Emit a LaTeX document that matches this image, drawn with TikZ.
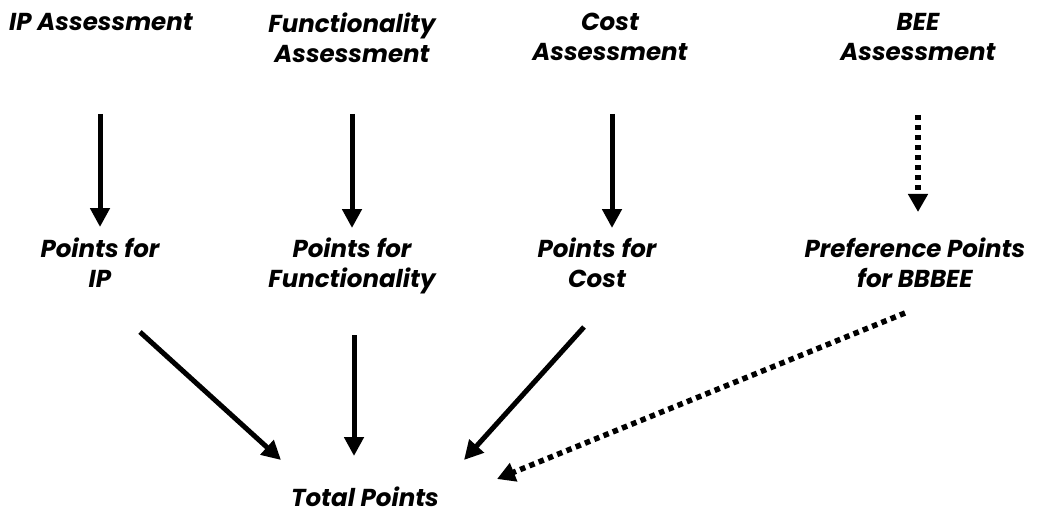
\documentclass[tikz,border=0pt]{standalone}
\usepackage{fontspec}
\setmainfont{Poppins}
\usetikzlibrary{arrows.meta,calc}
\tikzset{
  lbl/.style={font=\fontsize{24.5}{30}\selectfont\bfseries\itshape, align=center, inner sep=0pt, anchor=north},
  arr/.style={line width=5pt, -{Triangle[length=19pt,width=19pt]}},
  darr/.style={line width=5.5pt, dash pattern=on 5.5pt off 4.5pt, -{Triangle[length=18pt,width=19pt]}}
}
\begin{document}
\begin{tikzpicture}[x=1pt,y=-1pt]
\useasboundingbox[fill=white] (0,0) rectangle (1050,516);
\node[lbl] (ipA) at (101,13) {IP Assessment};
\node[lbl] (fA) at (352,13) {Functionality\\Assessment};
\node[lbl] (cA) at (610,13) {Cost\\Assessment};
\node[lbl] (bA) at (918,13) {BEE\\Assessment};
\node[lbl] (ipP) at (100,238) {Points for\\IP};
\node[lbl] (fP) at (352,238) {Points for\\Functionality};
\node[lbl] (cP) at (597,238) {Points for\\Cost};
\node[lbl] (bP) at (915,238) {Preference Points\\for BBBEE};
\node[lbl] (tot) at (365,487) {Total Points};
% top arrows
\draw[arr] ($(ipA.north)+(-1,101)$) -- ($(ipP.north)+(0,-11)$);
\draw[arr] ($(fA.north)+(0,101)$) -- ($(fP.north)+(0,-10)$);
\draw[arr] ($(cA.north)+(2,101)$) -- ($(cP.north)+(15,-10)$);
\draw[darr] ($(bA.north)+(0,102)$) -- ($(bP.north)+(3,-26)$);
% bottom arrows
\draw[arr] ($(ipP.north)+(40,94)$) -- ($(tot.north)+(-84,-27)$);
\draw[arr] ($(fP.north)+(2,97)$) -- ($(tot.north)+(-11,-31)$);
\draw[arr] ($(cP.north)+(-13,89)$) -- ($(tot.north)+(99,-27)$);
\draw[darr] ($(bP.north)+(-10,75)$) -- ($(tot.north)+(132,-8)$);
\end{tikzpicture}
\end{document}
